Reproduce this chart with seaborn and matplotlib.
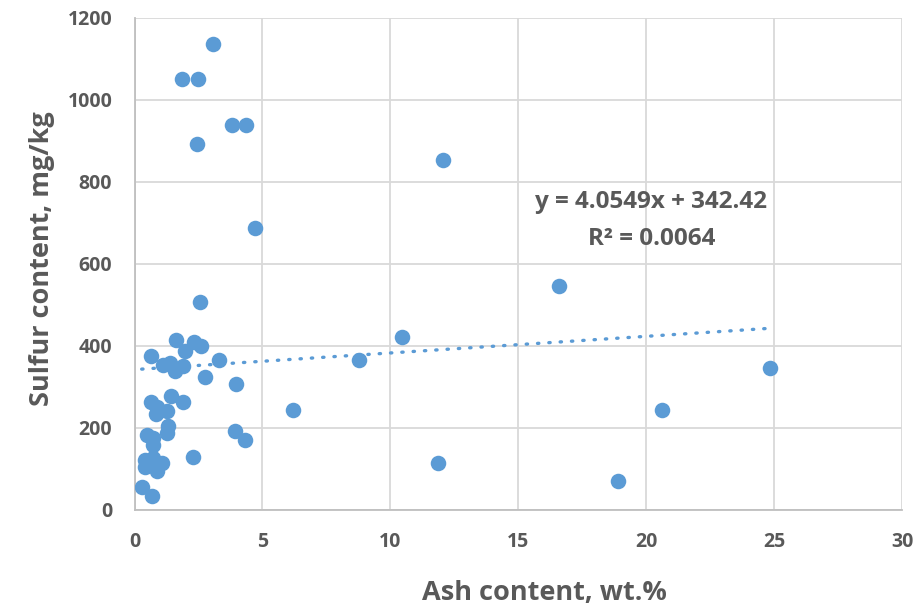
import matplotlib
matplotlib.use("Agg")
import matplotlib.pyplot as plt
import seaborn as sns
import numpy as np
import pandas as pd

# Ash content (wt.%) and sulfur content (mg/kg) of the samples
ash = [3.05, 1.85, 2.50, 3.80, 4.34, 2.43, 4.70, 12.05, 16.58, 10.47, 8.79, 24.85,
       20.60, 6.20, 11.88, 18.90,
       2.55, 1.62, 2.32, 2.60, 1.99, 0.65, 1.10, 1.39, 1.60, 1.89, 3.32, 2.76,
       3.98, 1.43, 1.89, 0.63, 0.87, 1.28, 0.83, 1.32, 1.26, 3.92, 4.31, 0.50,
       0.74, 0.71, 2.29, 0.41, 0.74, 1.09, 0.41, 0.87, 0.28, 0.70]
sulfur = [1136, 1052, 1052, 939, 939, 892, 688, 853, 546, 422, 366, 346,
          244, 244, 115, 71,
          508, 415, 410, 399, 388, 375, 354, 359, 340, 350, 365, 325,
          308, 279, 264, 264, 250, 241, 233, 206, 187, 193, 171, 183,
          175, 159, 130, 122, 126, 115, 106, 96, 55, 35]

# Linear trend line coefficients
slope = 4.0549
intercept = 342.42
r_squared = 0.0064

x_ticks = [0, 5, 10, 15, 20, 25, 30]
y_ticks = [0, 200, 400, 600, 800, 1000, 1200]

df = pd.DataFrame({"ash": ash, "sulfur": sulfur})

sns.set_theme(style="white")
plt.rcParams["font.family"] = ["Open Sans", "DejaVu Sans"]

text_color = "#595959"
point_color = "#5B9BD5"

fig = plt.figure(figsize=(9.17, 6.10), dpi=100)
ax = fig.add_axes([0.1467, 0.164, 0.8370, 0.8065])

sns.scatterplot(data=df, x="ash", y="sulfur", ax=ax, s=125, color=point_color,
                edgecolor=point_color, linewidth=0, zorder=3)

xs = np.linspace(min(ash), max(ash), 200)
ax.plot(xs, slope * xs + intercept, linestyle=(0, (0.4, 3.0)), linewidth=2.4,
        color=point_color, dash_capstyle="round", zorder=2)

ax.set_xlim(0, 30)
ax.set_ylim(0, 1200)
ax.set_xticks(x_ticks)
ax.set_yticks(y_ticks)
ax.grid(True, color="#D9D9D9", linewidth=1.3)
ax.set_axisbelow(True)

for side in ["top", "right"]:
    ax.spines[side].set_visible(False)
for side in ["left", "bottom"]:
    ax.spines[side].set_color("#BFBFBF")
    ax.spines[side].set_linewidth(1.3)

ax.tick_params(axis="x", length=0, labelsize=14, labelcolor=text_color, pad=16)
ax.tick_params(axis="y", length=0, labelsize=14, labelcolor=text_color, pad=16)
for lbl in ax.get_xticklabels() + ax.get_yticklabels():
    lbl.set_fontweight("bold")

ax.set_xlabel("Ash content, wt.%", fontsize=19.5, fontweight="bold", color=text_color)
ax.set_ylabel("Sulfur content, mg/kg", fontsize=19.5, fontweight="bold", color=text_color)
ax.xaxis.set_label_coords(0.534, -0.142)
ax.yaxis.set_label_coords(-0.104, 0.51)

ax.text(20.2, 750, f"y = {slope}x + {intercept}", ha="center", va="center",
        fontsize=17.5, fontweight="bold", color=text_color)
ax.text(20.2, 660, f"R² = {r_squared}", ha="center", va="center",
        fontsize=17.5, fontweight="bold", color=text_color)

fig.savefig("out.png", dpi=100)
